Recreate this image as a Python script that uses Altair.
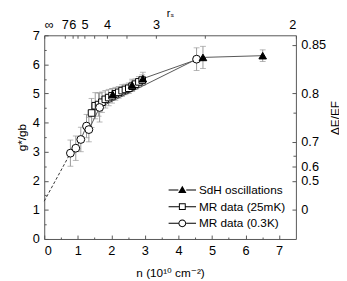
import altair as alt
import pandas as pd

# ---------------- data ----------------
series_names = ["SdH oscillations", "MR data (25mK)", "MR data (0.3K)"]

sdh_n   = [2.04, 2.62, 2.94, 4.73, 6.51]
sdh_g   = [4.97, 5.29, 5.51, 6.24, 6.30]
sdh_err = [0.20, 0.20, 0.22, 0.38, 0.20]

mr25_n   = [1.41, 1.52, 1.62, 1.72, 1.82, 1.92, 2.02, 2.12, 2.22, 2.32, 2.42, 2.52, 2.62, 2.72, 2.82, 2.92]
mr25_g   = [4.33, 4.58, 4.62, 4.70, 4.80, 4.86, 4.92, 4.99, 5.04, 5.10, 5.14, 5.18, 5.25, 5.32, 5.40, 5.46]
mr25_err = [0.50, 0.45, 0.40, 0.35, 0.30, 0.28, 0.25, 0.22, 0.20, 0.20, 0.18, 0.18, 0.18, 0.18, 0.18, 0.18]

mr03_n   = [0.78, 0.94, 1.09, 1.26, 1.33, 1.65, 4.54]
mr03_g   = [2.95, 3.12, 3.42, 3.88, 3.76, 4.52, 6.18]
mr03_err = [0.45, 0.42, 0.42, 0.40, 0.42, 0.50, 0.39]

ext_n = [0.0, 0.78]
ext_g = [1.30, 2.95]

x_major = [0, 1, 2, 3, 4, 5, 6, 7]
x_minor = [0.5, 1.5, 2.5, 3.5, 4.5, 5.5, 6.5]
y_major = [0, 1, 2, 3, 4, 5, 6, 7]
y_minor = [0.5, 1.5, 2.5, 3.5, 4.5, 5.5, 6.5]
rs_major = [7, 6, 5, 4, 3, 2]          # r_s tick labels (top axis), plus infinity at n = 0
rs_minor = [5.5, 4.5, 3.5, 2.5]
de_major = [0, 0.5, 0.6, 0.7, 0.8, 0.85]  # Delta E / E_F labels (right axis)
de_minor = [0.65, 0.77]

RS_CONST = 30.0  # n = RS_CONST / r_s^2 (axis mapping)

# ---------------- tables ----------------
rows = []
for name, ns, gs, es in [(series_names[0], sdh_n, sdh_g, sdh_err),
                         (series_names[1], mr25_n, mr25_g, mr25_err),
                         (series_names[2], mr03_n, mr03_g, mr03_err)]:
    for n, g, e in zip(ns, gs, es):
        rows.append({"series": name, "n": n, "g": g, "lo": g - e, "hi": g + e})
df = pd.DataFrame(rows)
ext = pd.DataFrame({"n": ext_n, "g": ext_g})

top_major_vals = [0.0] + [RS_CONST / r ** 2 for r in rs_major]
top_minor_vals = [RS_CONST / r ** 2 for r in rs_minor]
right_major_vals = [1.0 / (1.0 - v) for v in de_major]
right_minor_vals = [1.0 / (1.0 - v) for v in de_minor]

xs = alt.Scale(domain=[0, 7.5], nice=False, zero=False)
ys = alt.Scale(domain=[0, 7], nice=False, zero=False)
TICK = "#555555"
FONT = "Liberation Sans, Arial, DejaVu Sans"
base = alt.Chart(df)


def X(field="n:Q", axis=None):
    return alt.X(field, scale=xs, axis=axis)


def Y(field="g:Q", axis=None):
    return alt.Y(field, scale=ys, axis=axis)


# ---------------- axis carrier layers ----------------
axA = base.mark_point(opacity=0).encode(
    x=X(axis=alt.Axis(orient="bottom", values=x_major, tickSize=4, offset=-4, domain=False,
                      grid=False, labelPadding=6, format="d", labelOverlap=False,
                      title="n (10¹⁰ cm⁻²)", titlePadding=10)),
    y=Y(axis=alt.Axis(orient="left", values=y_major, tickSize=4, offset=-4, domain=False,
                      grid=False, labelPadding=5, format="d", labelOverlap=False,
                      title="g*/gb", titlePadding=4)),
)
axB = base.mark_point(opacity=0).encode(
    x=X(axis=alt.Axis(orient="bottom", values=x_minor, tickSize=2, offset=-2, domain=False,
                      grid=False, labels=False, title=None)),
    y=Y(axis=alt.Axis(orient="left", values=y_minor, tickSize=2, offset=-2, domain=False,
                      grid=False, labels=False, title=None)),
)
axC = base.mark_point(opacity=0).encode(
    x=X(axis=alt.Axis(orient="top", values=top_major_vals, tickSize=3, offset=-3, domain=False,
                      grid=False, labelPadding=4, labelOverlap=False, labelBound=False,
                      labelExpr="datum.value == 0 ? '∞' : format(sqrt(30 / datum.value), '.0f')",
                      title="rₛ", titlePadding=0, titleFontSize=11)),
    y=Y(axis=alt.Axis(orient="right", values=right_major_vals, tickSize=4, offset=-4, domain=False,
                      grid=False, labelPadding=5, labelOverlap=False, labelBound=False,
                      labelExpr="format(1 - 1 / datum.value, '.2~f')",
                      title="ΔE/EF", titleAngle=270, titleX=43, titleY=84,
                      titleBaseline="middle")),
)
axD = base.mark_point(opacity=0).encode(
    x=X(axis=alt.Axis(orient="top", values=top_minor_vals, tickSize=3, offset=-3, domain=False,
                      grid=False, labels=False, title=None)),
    y=Y(axis=alt.Axis(orient="right", values=right_minor_vals, tickSize=3, offset=-3, domain=False,
                      grid=False, labels=False, title=None)),
)

# ---------------- data layers ----------------
ext_line = alt.Chart(ext).mark_line(strokeDash=[3, 2], color="#333333", strokeWidth=1).encode(
    x=X(), y=Y())
err = base.mark_rule(color="#999999", strokeWidth=1).encode(x=X(), y=Y("lo:Q"), y2="hi:Q")
cap_lo = base.mark_tick(orient="horizontal", size=6, thickness=1, color="#999999").encode(
    x=X(), y=Y("lo:Q"))
cap_hi = base.mark_tick(orient="horizontal", size=6, thickness=1, color="#999999").encode(
    x=X(), y=Y("hi:Q"))
lines = base.mark_line(color="#555555", strokeWidth=1).encode(
    x=X(), y=Y(), detail="series:N")

pt_sq = base.transform_filter(alt.datum.series == series_names[1]).mark_point(
    shape="square", filled=True, fill="white", stroke="black", strokeWidth=1, size=45, opacity=1
).encode(x=X(), y=Y())
pt_ci = base.transform_filter(alt.datum.series == series_names[2]).mark_point(
    shape="circle", filled=True, fill="white", stroke="black", strokeWidth=1, size=64, opacity=1
).encode(x=X(), y=Y())
pt_tr = base.transform_filter(alt.datum.series == series_names[0]).mark_point(
    shape="triangle-up", filled=True, fill="black", stroke="black", strokeWidth=1, size=60, opacity=1
).encode(x=X(), y=Y())

# ---------------- legend (line + marker symbols, drawn as filled outlines) ----------------
SEG = "M-4.6,-0.1H-2.6V0.1H-4.6ZM-1,-0.1H1V0.1H-1Z"
legend_paths = [
    SEG + "M-1.8,-0.85L-0.95,0.6H-2.65Z",
    "M-4.6,-0.1H-2.5V0.1H-4.6ZM-1.1,-0.1H1V0.1H-1.1Z"
    "M-2.5,-0.7H-1.1V0.7H-2.5ZM-2.3,-0.5V0.5H-1.3V-0.5Z",
    SEG + "M-1,0A0.8,0.8,0,1,1,-2.6,0A0.8,0.8,0,1,1,-1,0Z"
    "M-1.2,0A0.6,0.6,0,1,0,-2.4,0A0.6,0.6,0,1,0,-1.2,0Z",
]
leg = alt.Legend(orient="none", legendX=144, legendY=152, title=None, symbolSize=100,
                 symbolOpacity=1, symbolStrokeWidth=0,
                 labelFont=FONT, labelFontSize=12, labelColor="black",
                 labelOffset=2, rowPadding=5, padding=0, labelLimit=300)
legend_layer = base.mark_point(opacity=0, filled=True, size=100, color="black").encode(
    x=X(), y=Y(),
    shape=alt.Shape("series:N", scale=alt.Scale(domain=series_names, range=legend_paths), legend=leg),
)

chart = alt.layer(
    axA, axB, axC, axD, err, cap_lo, cap_hi, ext_line, lines, pt_sq, pt_ci, pt_tr, legend_layer
).resolve_axis(
    x="independent", y="independent"
).properties(
    width=257, height=208,
    autosize=alt.AutoSizeParams(type="none"),
    padding={"left": 37, "top": 25, "right": 44, "bottom": 39},
).configure_view(
    stroke="#555555", strokeWidth=1
).configure_axis(
    labelFont=FONT, labelFontSize=13, labelColor="black",
    titleFont=FONT, titleFontSize=12, titleFontWeight="normal", titleColor="black",
    tickColor=TICK, tickWidth=1,
)

chart.save("out.html", embed_options={"renderer": "svg", "actions": False})
